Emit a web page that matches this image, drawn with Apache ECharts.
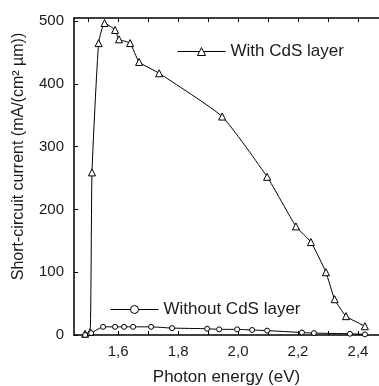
<!DOCTYPE html>
<html>
<head>
<meta charset="utf-8">
<script src="https://cdn.jsdelivr.net/npm/echarts@6/dist/echarts.min.js"></script>
<style>
  html, body { margin: 0; padding: 0; background: #fff; }
  #chart { width: 379px; height: 386px; }
</style>
</head>
<body>
<div id="chart"></div>
<script>
// photon energy (eV) / short-circuit current (mA/(cm² µm))
const withCdsX = [1.49, 1.507, 1.513, 1.535, 1.555, 1.59, 1.603, 1.64, 1.67, 1.737, 1.947, 2.097, 2.193, 2.243, 2.293, 2.322, 2.36, 2.423];
const withCdsY = [2, 5, 259, 465, 497, 486, 471, 465, 435, 417, 348, 252, 173, 148, 100, 57, 30, 14];

const withoutCdsX = [1.49, 1.51, 1.55, 1.59, 1.62, 1.65, 1.71, 1.78, 1.897, 1.937, 1.997, 2.047, 2.097, 2.213, 2.253, 2.373, 2.423];
const withoutCdsY = [0, 3, 13, 13, 13, 13, 13, 11, 10, 9, 9, 8, 7, 4, 3, 2, 1];

const xTicks = [1.5, 1.6, 1.7, 1.8, 1.9, 2.0, 2.1, 2.2, 2.3, 2.4];
const xLabels = [1.6, 1.8, 2.0, 2.2, 2.4];
const yTicks = [0, 100, 200, 300, 400, 500];

const FONT = 'Liberation Sans';
const TEXT = '#1a1a1a';

const chart = echarts.init(document.getElementById('chart'));

const zip = (xs, ys) => xs.map((x, i) => [x, ys[i]]);

const legendBase = {
  itemWidth: 48, itemHeight: 10, itemGap: 4,
  lineStyle: { width: 1 },
  itemStyle: { color: '#fff', borderColor: '#000', borderWidth: 1 },
  textStyle: { fontFamily: FONT, fontSize: 17, color: TEXT }
};

chart.setOption({
  animation: false,
  backgroundColor: '#fff',
  grid: { left: 74, top: 18, right: 0, bottom: 51, outerBoundsMode: 'none' },
  legend: [
    Object.assign({ data: ['With CdS layer'], left: 172, top: 38 }, legendBase),
    Object.assign({ data: ['Without CdS layer'], left: 105, top: 296 }, legendBase)
  ],
  xAxis: [
    {
      type: 'value',
      min: 1.453, max: 2.47,
      name: 'Photon energy (eV)',
      nameLocation: 'middle',
      nameGap: 34,
      nameTextStyle: { fontFamily: FONT, fontSize: 17, color: TEXT },
      axisLine: { lineStyle: { color: '#000', width: 1.5 } },
      axisTick: { inside: true, length: 4, customValues: xTicks, lineStyle: { color: '#000' } },
      axisLabel: {
        customValues: xLabels,
        margin: 9,
        fontFamily: FONT, fontSize: 15, color: TEXT,
        formatter: v => v.toFixed(1).replace('.', ',')
      },
      splitLine: { show: false }
    },
    {
      type: 'value',
      position: 'top',
      min: 1.453, max: 2.47,
      axisLine: { lineStyle: { color: '#000', width: 1.5 } },
      axisTick: { inside: true, length: 4, customValues: xTicks, lineStyle: { color: '#000' } },
      axisLabel: { show: false },
      splitLine: { show: false }
    }
  ],
  yAxis: {
    type: 'value',
    min: 0, max: 505,
    name: 'Short-circuit current (mA/(cm² µm))',
    nameLocation: 'middle',
    nameGap: 47,
    nameTextStyle: { fontFamily: FONT, fontSize: 16, color: TEXT, padding: [0, 0, 0, 40] },
    axisLine: { show: true, lineStyle: { color: '#000', width: 1.5 } },
    axisTick: { show: true, inside: true, length: 4, customValues: yTicks, lineStyle: { color: '#000' } },
    axisLabel: { customValues: yTicks, margin: 10, fontFamily: FONT, fontSize: 15, color: TEXT },
    splitLine: { show: false }
  },
  series: [
    {
      name: 'With CdS layer',
      type: 'line',
      data: zip(withCdsX, withCdsY),
      smooth: 0.15,
      symbol: 'triangle',
      symbolSize: 7,
      showAllSymbol: true,
      lineStyle: { color: '#000', width: 1 },
      itemStyle: { color: '#fff', borderColor: '#000', borderWidth: 1 }
    },
    {
      name: 'Without CdS layer',
      type: 'line',
      data: zip(withoutCdsX, withoutCdsY),
      smooth: 0.15,
      symbol: 'circle',
      symbolSize: 5,
      showAllSymbol: true,
      lineStyle: { color: '#000', width: 1 },
      itemStyle: { color: '#fff', borderColor: '#000', borderWidth: 1 }
    }
  ]
});
</script>
</body>
</html>
